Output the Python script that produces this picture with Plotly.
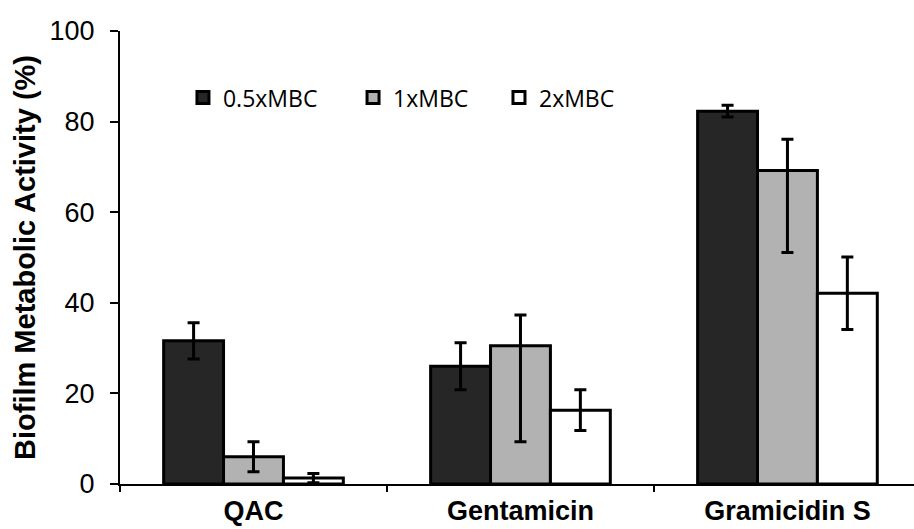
import plotly.graph_objects as go

categories = ["QAC", "Gentamicin", "Gramicidin S"]
series_names = ["0.5xMBC", "1xMBC", "2xMBC"]
series_colors = ["#262626", "#b2b2b2", "#ffffff"]

vals_05 = [31.6, 26.0, 82.3]
vals_1 = [6.0, 30.5, 69.2]
vals_2 = [1.3, 16.3, 42.1]

err_plus_05 = [4.0, 5.2, 1.3]
err_minus_05 = [4.0, 5.2, 1.3]
err_plus_1 = [3.3, 6.8, 6.9]
err_minus_1 = [3.3, 21.2, 18.1]
err_plus_2 = [1.0, 4.5, 8.0]
err_minus_2 = [1.0, 4.5, 8.0]

y_ticks = [0, 20, 40, 60, 80, 100]

series = [
    (vals_05, err_plus_05, err_minus_05),
    (vals_1, err_plus_1, err_minus_1),
    (vals_2, err_plus_2, err_minus_2),
]
legend_ids = ["legend", "legend2", "legend3"]
legend_x = [0.0793, 0.2935, 0.4773]

fig = go.Figure()
for name, color, (v, ep, em), lid in zip(series_names, series_colors, series, legend_ids):
    fig.add_trace(go.Bar(
        name=name, x=categories, y=v, legend=lid, showlegend=True,
        marker=dict(color=color, line=dict(color="black", width=3)),
        error_y=dict(type="data", symmetric=False, array=ep, arrayminus=em,
                     color="black", thickness=3, width=6),
    ))

legend_style = dict(orientation="h", y=0.853, xanchor="left", yanchor="middle",
                    font=dict(family="Open Sans", size=23, color="black"),
                    bgcolor="rgba(0,0,0,0)")

fig.update_layout(
    width=914, height=529,
    margin=dict(l=120, r=0, t=30.5, b=45),
    paper_bgcolor="white", plot_bgcolor="white",
    showlegend=True,
    barmode="group", bargap=0.327, bargroupgap=0,
    font=dict(family="Liberation Sans, Arial, sans-serif", color="black"),
    legend=dict(x=legend_x[0], **legend_style),
    legend2=dict(x=legend_x[1], **legend_style),
    legend3=dict(x=legend_x[2], **legend_style),
    xaxis=dict(range=[-0.5, 2.474], showline=True, linecolor="black", linewidth=2,
               ticks="outside", tickson="boundaries", ticklen=6, tickwidth=2, tickcolor="black",
               tickfont=dict(size=27, family="Liberation Sans, Arial", weight="bold"),
               ticklabelstandoff=2, automargin=False,
               showgrid=False, zeroline=False),
    yaxis=dict(range=[0, 100], tickvals=y_ticks, showline=True, linecolor="black", linewidth=2,
               ticks="outside", ticklen=8, tickwidth=2, tickcolor="black",
               tickfont=dict(size=27), ticklabelstandoff=10, automargin=False,
               showgrid=False, zeroline=False,
               title=dict(text="Biofilm Metabolic Activity (%)",
                          font=dict(size=29, weight="bold"), standoff=5)),
)

fig.write_html("out.html")
